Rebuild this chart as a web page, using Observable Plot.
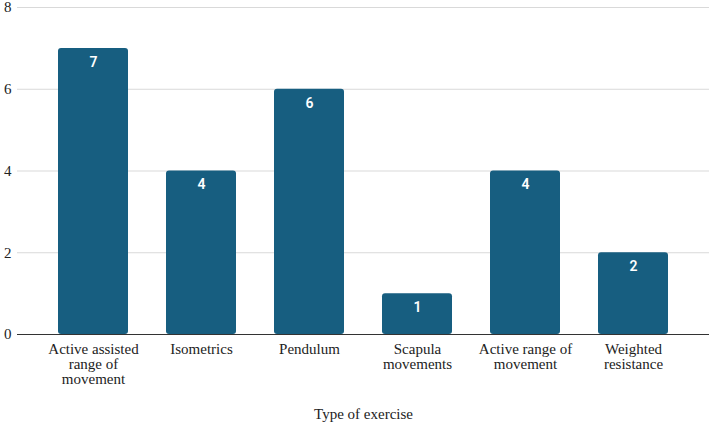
<!DOCTYPE html>
<html>
<head>
<meta charset="utf-8">
<script src="https://cdn.jsdelivr.net/npm/d3@7"></script>
<script src="https://cdn.jsdelivr.net/npm/@observablehq/plot@0.6"></script>
<style>
  html, body { margin: 0; padding: 0; background: #fff; }
</style>
</head>
<body>
<div id="chart"></div>
<script>
const categories = [
  "Active assisted range of movement",
  "Isometrics",
  "Pendulum",
  "Scapula movements",
  "Active range of movement",
  "Weighted resistance"
];
const tickLabels = [
  "Active assisted\nrange of\nmovement",
  "Isometrics",
  "Pendulum",
  "Scapula\nmovements",
  "Active range of\nmovement",
  "Weighted\nresistance"
];
const values = [7, 4, 6, 1, 4, 2];
const yTicks = [0, 2, 4, 6, 8];
const xTitle = "Type of exercise";

const data = categories.map((c, i) => ({category: c, value: values[i]}));
const labelOf = new Map(categories.map((c, i) => [c, tickLabels[i]]));

const serif = "'Liberation Serif', 'Times New Roman', serif";
const sans = "Roboto, 'Liberation Sans', sans-serif";

const chart = Plot.plot({
  width: 709,
  height: 428,
  marginTop: 7,
  marginBottom: 94,
  marginLeft: 17,
  marginRight: 0,
  style: {fontFamily: serif, fontSize: "15px", color: "#222", background: "#fff"},
  x: {domain: categories, paddingInner: 0.355, paddingOuter: 0.363, label: null},
  y: {domain: [0, 8], label: null},
  marks: [
    Plot.ruleY(yTicks.filter(d => d > 0), {stroke: "#d9d9d9", strokeWidth: 1}),
    Plot.barY(data, {x: "category", y: "value", fill: "#175e80", rx: 3}),
    Plot.ruleY([0], {stroke: "#333", strokeWidth: 1}),
    Plot.text(data, {
      x: "category", y: "value", text: d => String(d.value),
      dy: 14, fill: "#fff", fontWeight: 600, fontSize: 14, fontFamily: sans
    }),
    Plot.axisY({ticks: yTicks, tickSize: 0, tickPadding: 6, label: null, fontSize: 15, fill: "#222", fontFamily: serif}),
    Plot.axisX({tickSize: 0, tickPadding: 9, label: null, tickFormat: d => labelOf.get(d), fontSize: 15, lineHeight: 1.0, fill: "#222", fontFamily: serif}),
    Plot.text([xTitle], {frameAnchor: "bottom", dy: 84, fontSize: 15, fill: "#222", fontFamily: serif})
  ]
});
document.getElementById("chart").appendChild(chart);
</script>
</body>
</html>
